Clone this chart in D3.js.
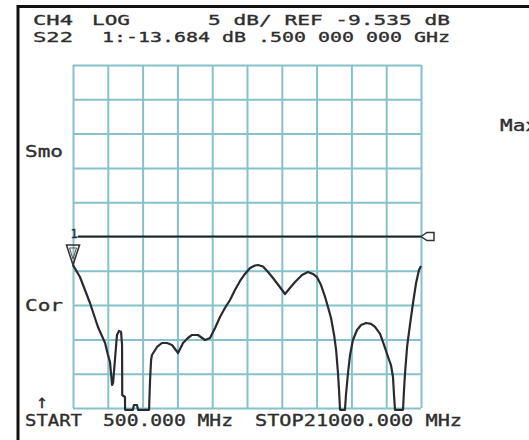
<!DOCTYPE html>
<html lang="en">
    <head>
        <meta charset="utf-8">
        <title>S22 LOG</title>
        <script type="text/javascript" src="https://cdn.jsdelivr.net/npm/d3@7"></script>
        <style>
            body { margin: 0; background: #fff; }
            text { font-family: "DejaVu Sans Mono", monospace; fill: #2e2e2e; stroke: #2e2e2e; stroke-width: 0.35; }
        </style>
    </head>

    <body>
        <script type="text/javascript">

            // trace: frequency (GHz) and S22 (dB)
            var freq_ghz = [0.5, 0.91, 1.50, 1.97, 2.39, 2.56, 2.68, 2.80, 2.86, 2.97, 3.09, 3.21, 3.33, 3.39, 3.40,
                3.56, 3.57, 4.03, 4.09, 4.27, 4.33, 4.98, 5.04, 5.10, 5.15, 5.45, 5.74, 6.04, 6.33, 6.69,
                6.98, 7.27, 7.51, 7.86, 8.28, 8.57, 8.87, 9.16, 9.45, 9.75, 10.04, 10.34, 10.63, 10.93, 11.22,
                11.40, 11.69, 11.99, 12.28, 12.64, 12.99, 13.28, 13.58, 13.99, 14.34, 14.64, 14.87, 15.11, 15.35, 15.52,
                15.70, 15.88, 16.00, 16.11, 16.17, 16.23, 16.52, 16.58, 16.70, 16.82, 16.99, 17.23, 17.47, 17.76, 18.06,
                18.29, 18.59, 18.82, 19.06, 19.23, 19.35, 19.41, 19.47, 19.94, 20.00, 20.06, 20.18, 20.35, 20.53, 20.71,
                20.88, 21.0];
            var s22_db = [-13.684, -15.44, -19.23, -22.73, -25.06, -26.81, -27.83, -31.18, -30.90, -27.54, -23.89, -23.31, -23.45, -25.35, -32.64,
                -32.93, -34.80, -34.80, -34.10, -34.10, -34.80, -34.80, -30.45, -27.54, -26.81, -25.64, -25.06, -25.06, -25.35, -26.52,
                -25.06, -24.33, -23.89, -23.89, -24.62, -24.33, -22.87, -21.27, -19.96, -18.79, -17.33, -16.02, -15.00, -14.13, -13.76,
                -13.69, -13.91, -14.71, -15.58, -16.75, -17.92, -17.04, -16.17, -15.15, -14.71, -15.00, -15.44, -16.61, -18.35, -19.81,
                -21.41, -23.89, -26.08, -29.43, -31.91, -34.80, -34.80, -32.64, -29.43, -26.81, -24.62, -23.16, -22.43, -22.14, -22.28,
                -22.72, -23.74, -25.35, -27.10, -28.27, -30.02, -32.64, -34.80, -34.80, -31.91, -29.43, -25.64, -22.43, -19.23, -16.31,
                -14.42, -13.84];

            // instrument settings shown on screen
            var start_ghz = 0.5;
            var stop_ghz = 21.0;
            var ref_db = -9.535;
            var db_per_div = 5;
            var n_div = 10;
            var marker_ghz = 0.5;
            var marker_db = -13.684;

            // text rows: [text, x, length]
            var header_1 = [["CH4", 33, 40], ["LOG", 92, 38], ["5 dB/ REF -9.535 dB", 208, 242]];
            var header_2 = [["S22", 33, 40], ["1:-13.684 dB .500 000 000 GHz", 102, 348]];
            var footer = [["START", 25, 57], ["500.000 MHz", 103, 130], ["STOP21000.000 MHz", 255, 207]];
            var side_labels = [["Smo", 25, 157], ["Cor", 25, 311], ["Max", 500, 131]];

            var width = 529, height = 440;
            var plot_left = 73, plot_right = 421, plot_top = 65, plot_bottom = 408;

            var svg = d3.select("body")
                .append("svg")
                .attr("width", width)
                .attr("height", height);

            var x = d3.scaleLinear()
                .domain([start_ghz, stop_ghz])
                .range([plot_left, plot_right]);

            var y = d3.scaleLinear()
                .domain([ref_db - db_per_div * n_div / 2, ref_db + db_per_div * n_div / 2])
                .range([plot_bottom, plot_top]);

            // screen frame
            svg.append("line").attr("x1", 18).attr("x2", width).attr("y1", 6.5).attr("y2", 6.5)
                .attr("stroke", "#111").attr("stroke-width", 3);
            svg.append("line").attr("x1", 18).attr("x2", 18).attr("y1", 5).attr("y2", height)
                .attr("stroke", "#111").attr("stroke-width", 3);

            // graticule, drawn with axes
            var x_grid = d3.range(n_div + 1).map(function(i) { return start_ghz + i * (stop_ghz - start_ghz) / n_div; });
            var y_grid = d3.range(n_div + 1).map(function(i) { return y.domain()[0] + i * db_per_div; });

            svg.append("g")
                .attr("class", "grid")
                .attr("transform", "translate(0," + plot_bottom + ")")
                .call(d3.axisBottom(x).tickValues(x_grid).tickSize(-(plot_bottom - plot_top)).tickFormat(""));
            svg.append("g")
                .attr("class", "grid")
                .attr("transform", "translate(" + plot_left + ",0)")
                .call(d3.axisLeft(y).tickValues(y_grid).tickSize(-(plot_right - plot_left)).tickFormat(""));
            svg.selectAll(".grid .domain").remove();
            svg.selectAll(".grid line")
                .attr("stroke", "#85c2ca")
                .attr("stroke-width", 2);

            // reference line
            var ry = y(ref_db);
            svg.append("line")
                .attr("x1", x(start_ghz) + 5).attr("x2", plot_right)
                .attr("y1", ry).attr("y2", ry)
                .attr("stroke", "#222").attr("stroke-width", 2);
            svg.append("path")
                .attr("d", "M" + plot_right + "," + ry + "L" + (plot_right + 6) + "," + (ry - 4) + "H" + (plot_right + 13) +
                    "V" + (ry + 4) + "H" + (plot_right + 6) + "Z")
                .attr("fill", "#fff").attr("stroke", "#333").attr("stroke-width", 1.5);

            // trace
            var trace = freq_ghz.map(function(f, i) { return [f, s22_db[i]]; });
            svg.append("path")
                .datum(trace)
                .attr("fill", "none")
                .attr("stroke", "#2a2a33")
                .attr("stroke-width", 2.2)
                .attr("stroke-linejoin", "round")
                .attr("d", d3.line()
                    .x(function(d) { return x(d[0]); })
                    .y(function(d) { return y(d[1]); }));

            // marker 1
            var mx = x(marker_ghz), my = y(marker_db);
            svg.append("path")
                .attr("d", "M" + (mx - 6.5) + "," + (my - 20) + "H" + (mx + 6.5) + "L" + mx + "," + my + "Z")
                .attr("fill", "none").attr("stroke", "#333").attr("stroke-width", 1.6);
            svg.append("path")
                .attr("d", "M" + (mx - 3.5) + "," + (my - 17) + "H" + (mx + 3.5) + "L" + mx + "," + (my - 6) + "Z")
                .attr("fill", "none").attr("stroke", "#555").attr("stroke-width", 1);
            svg.append("text")
                .attr("x", mx + 1).attr("y", ry + 1)
                .attr("font-size", 12)
                .attr("text-anchor", "middle")
                .text("1");

            // screen annotations
            function put_text(row, base, size) {
                svg.selectAll(null)
                    .data(row)
                    .enter()
                    .append("text")
                    .attr("x", function(d) { return d[1]; })
                    .attr("y", base)
                    .attr("font-size", size)
                    .attr("textLength", function(d) { return d[2]; })
                    .attr("lengthAdjust", "spacingAndGlyphs")
                    .text(function(d) { return d[0]; });
            }
            put_text(header_1, 25, 14.5);
            put_text(header_2, 42, 14.5);
            put_text(footer, 426, 16);

            svg.selectAll(null)
                .data(side_labels)
                .enter()
                .append("text")
                .attr("x", function(d) { return d[1]; })
                .attr("y", function(d) { return d[2]; })
                .attr("font-size", 16)
                .attr("textLength", 38)
                .attr("lengthAdjust", "spacingAndGlyphs")
                .text(function(d) { return d[0]; });

            svg.append("text")
                .attr("x", 42).attr("y", 408)
                .attr("font-size", 19)
                .attr("text-anchor", "middle")
                .text("\u2191");
        </script>
    </body>
</html>
